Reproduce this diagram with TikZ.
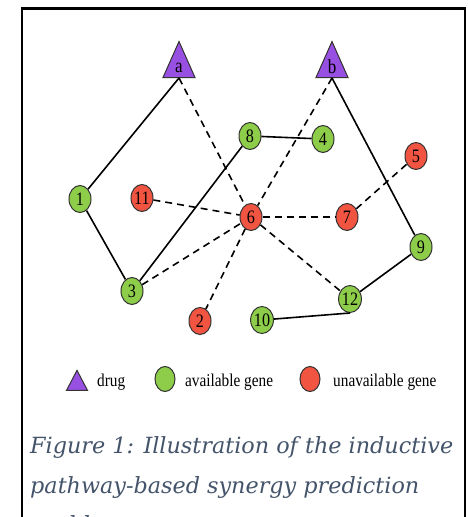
\documentclass[tikz,border=0pt]{standalone}
\usepackage{fontspec}
\setmainfont{Liberation Serif}
\newfontfamily\nodefont[FakeStretch=0.85]{Liberation Serif}
\newfontfamily\legfont[FakeStretch=0.85]{Liberation Serif}
\newfontfamily\capfont{DejaVu Serif}
\usetikzlibrary{shapes.geometric}
\definecolor{gengreen}{RGB}{141,205,74}
\definecolor{genred}{RGB}{242,84,66}
\definecolor{drugpurple}{RGB}{152,80,226}
\definecolor{capcol}{RGB}{68,84,106}
\tikzset{
  gene/.style={ellipse, draw=black!80, line width=1pt, minimum width=22pt, minimum height=27pt, inner sep=0pt, font=\nodefont\fontsize{19}{19}\selectfont},
  avail/.style={gene, fill=gengreen},
  unav/.style={gene, fill=genred},
  drugtri/.style={isosceles triangle, shape border rotate=90, isosceles triangle stretches, minimum width=32pt, minimum height=36pt, inner sep=0pt, draw=black!80, line width=1pt, fill=drugpurple, font=\nodefont\fontsize{20}{20}\selectfont},
  solidedge/.style={draw=black, line width=1.6pt},
  dashedge/.style={draw=black, line width=1.6pt, dash pattern=on 7pt off 5pt},
  legtext/.style={anchor=base west, inner sep=0pt, font=\legfont\fontsize{18}{18}\selectfont},
  captext/.style={anchor=base west, inner sep=0pt, text=capcol, font=\capfont\itshape\fontsize{22.3}{22.3}\selectfont}
}
\begin{document}
\begin{tikzpicture}[x=1pt,y=-1pt]
\useasboundingbox (0,0) rectangle (467,517);
\clip (0,0) rectangle (467,517);
\fill[white] (0,0) rectangle (467,517);
\draw[line width=2.5pt, black] (22,540) -- (22,8.5) -- (465,8.5) -- (465,540);
% drugs
\node[drugtri, anchor=south] (a) at (179,78) {a};
\node[drugtri, anchor=south] (b) at (332,78) {b};
% genes
\node[avail] (n8) at (250,136) {8};
\node[avail] (n4) at (323,139) {4};
\node[unav] (n5) at (416,156) {5};
\node[avail] (n1) at (80,199) {1};
\node[unav] (n11) at (142,198) {11};
\node[unav] (n6) at (251,217) {6};
\node[unav] (n7) at (347,217) {7};
\node[avail] (n9) at (421,247) {9};
\node[avail] (n3) at (132,291) {3};
\node[avail] (n12) at (350,299) {12};
\node[unav] (n2) at (200,321) {2};
\node[avail] (n10) at (262,320) {10};
% edges
\path[solidedge] (a.south) -- (n1);
\path[solidedge] (n1) -- (n3);
\path[solidedge] (n3) -- (n8);
\path[solidedge] (n8) -- (n4);
\path[solidedge] (b.south) -- (n9);
\path[solidedge] (n9) -- (n12);
\path[solidedge] (n12.south) -- (n10);
\path[dashedge] (a.south) -- (n6);
\path[dashedge] (b.south) -- (n6);
\path[dashedge] (n11) -- (n6);
\path[dashedge] (n6) -- (n7);
\path[dashedge] (n7) -- (n5);
\path[dashedge] (n3) -- (n6);
\path[dashedge] (n6) -- (n2);
\path[dashedge] (n6) -- (n12);
% legend
\node[drugtri, minimum width=21pt, minimum height=20pt] (la) at (77,384) {};
\node[legtext] (lt1) at (97,386) {drug};
\node[avail, minimum width=20pt, minimum height=25pt] (lg) at (165,379) {};
\node[legtext] (lt2) at (185,386) {available gene};
\node[unav, minimum width=20pt, minimum height=25pt] (lr) at (310,379) {};
\node[legtext] (lt3) at (333,386) {unavailable gene};
% caption
\node[captext] (c1) at (30,453) {Figure 1: Illustration of the inductive};
\node[captext] (c2) at (30,493) {pathway-based synergy prediction};
\node[captext] (c3) at (30,532) {problem.};
\end{tikzpicture}
\end{document}
